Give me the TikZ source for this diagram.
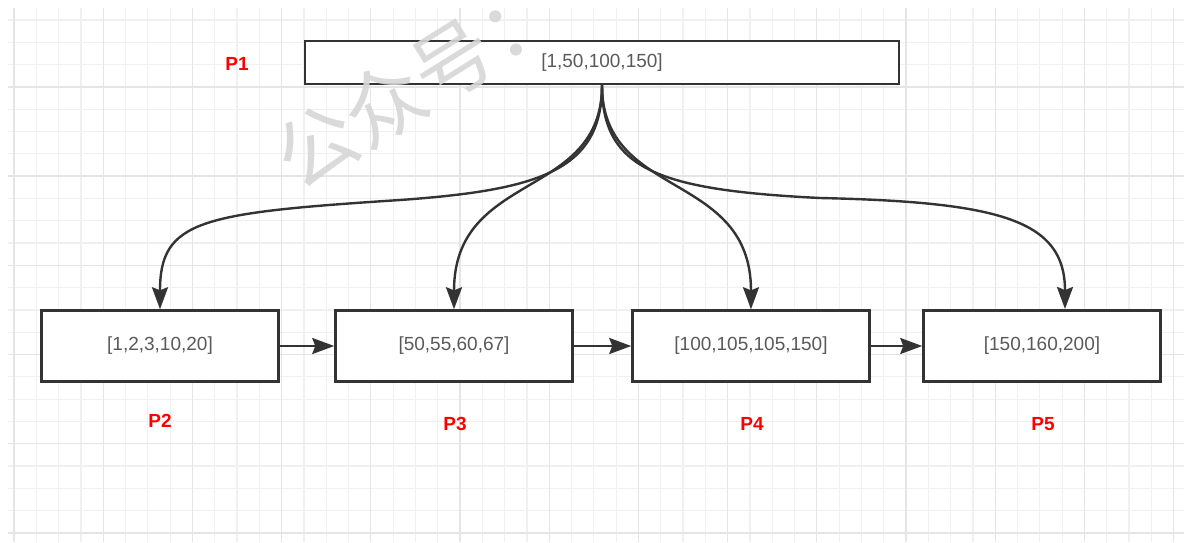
\documentclass[tikz,border=0pt]{standalone}
\usepackage{fontspec}
\setmainfont{Liberation Sans}
\newfontfamily\cjkwm{Noto Sans CJK SC}
\usetikzlibrary{arrows.meta}
\definecolor{dk}{HTML}{333333}
\definecolor{tx}{HTML}{5A5A5A}
\definecolor{gminor}{HTML}{F0F0F0}
\definecolor{gmajor}{HTML}{E5E5E5}
\definecolor{wm}{HTML}{D6D6D6}
\definecolor{lblred}{HTML}{FF0000}
\tikzset{
  boxnode/.style={draw=dk, line width=2.5pt, fill=white, minimum width=237pt, minimum height=71pt, inner sep=0pt, text=tx, font=\fontsize{19}{22}\selectfont},
  plabel/.style={text=lblred, font=\bfseries\fontsize{19}{22}\selectfont},
  conn/.style={draw=dk, line width=2.4pt, -{Stealth[length=22pt, width=16pt, inset=3pt]}},
  gridminor/.style={draw=gminor, line width=1.2pt},
  gridmajor/.style={draw=gmajor, line width=1.3pt},
  watermark/.style={text=wm, text opacity=0.9, font=\cjkwm\fontsize{80}{80}\selectfont, inner sep=0pt}
}
\begin{document}
\begin{tikzpicture}[x=1pt, y=-1pt]
\useasboundingbox (0,0) rectangle (1184,542);
\fill[white] (0,0) rectangle (1184,542);
% grid
\foreach \i in {0,...,52} { \draw[gridminor] ({14+\i*22.3},8) -- ({14+\i*22.3},542); }
\foreach \j in {0,...,23} { \draw[gridminor] (8,{20+\j*22.3}) -- (1184,{20+\j*22.3}); }
\foreach \i in {0,4,...,52} { \draw[gridmajor] ({14+\i*22.3},8) -- ({14+\i*22.3},542); }
\foreach \j in {3,7,...,23} { \draw[gridmajor] (8,{20+\j*22.3}) -- (1184,{20+\j*22.3}); }

% nodes
\node[boxnode, minimum width=594pt, minimum height=43pt] (p1) at (602,62.5) {[1,50,100,150]};
\node[boxnode] (p2) at (160,346) {[1,2,3,10,20]};
\node[boxnode] (p3) at (454,346) {[50,55,60,67]};
\node[boxnode] (p4) at (751,346) {[100,105,105,150]};
\node[boxnode] (p5) at (1042,346) {[150,160,200]};

\node[plabel] (l1) at (237,64) {P1};
\node[plabel] (l2) at (160,421) {P2};
\node[plabel] (l3) at (455,424) {P3};
\node[plabel] (l4) at (752,424) {P4};
\node[plabel] (l5) at (1043,424) {P5};

% waypoints
\coordinate (m2) at (400,200);
\coordinate (m5) at (820,198);
\coordinate (t5) at (1065,309);

% connectors
\draw[conn] (p1.south) .. controls +(0,85) and +(140,-10) .. (m2) .. controls +(-200,13) and +(0,-89) .. (p2.north);
\draw[conn] (p1.south) .. controls +(0,115) and +(0,-139) .. (p3.north);
\draw[conn] (p1.south) .. controls +(0,115) and +(0,-139) .. (p4.north);
\draw[conn] (p1.south) .. controls +(0,85) and +(-160,-8) .. (m5) .. controls +(180,4) and +(0,-89) .. (t5);
\draw[conn] (p2.east) -- (p3.west);
\draw[conn] (p3.east) -- (p4.west);
\draw[conn] (p4.east) -- (p5.west);

% watermark
\node[watermark, rotate=32] (wmk) at (418,82) {公众号：};
\end{tikzpicture}
\end{document}
